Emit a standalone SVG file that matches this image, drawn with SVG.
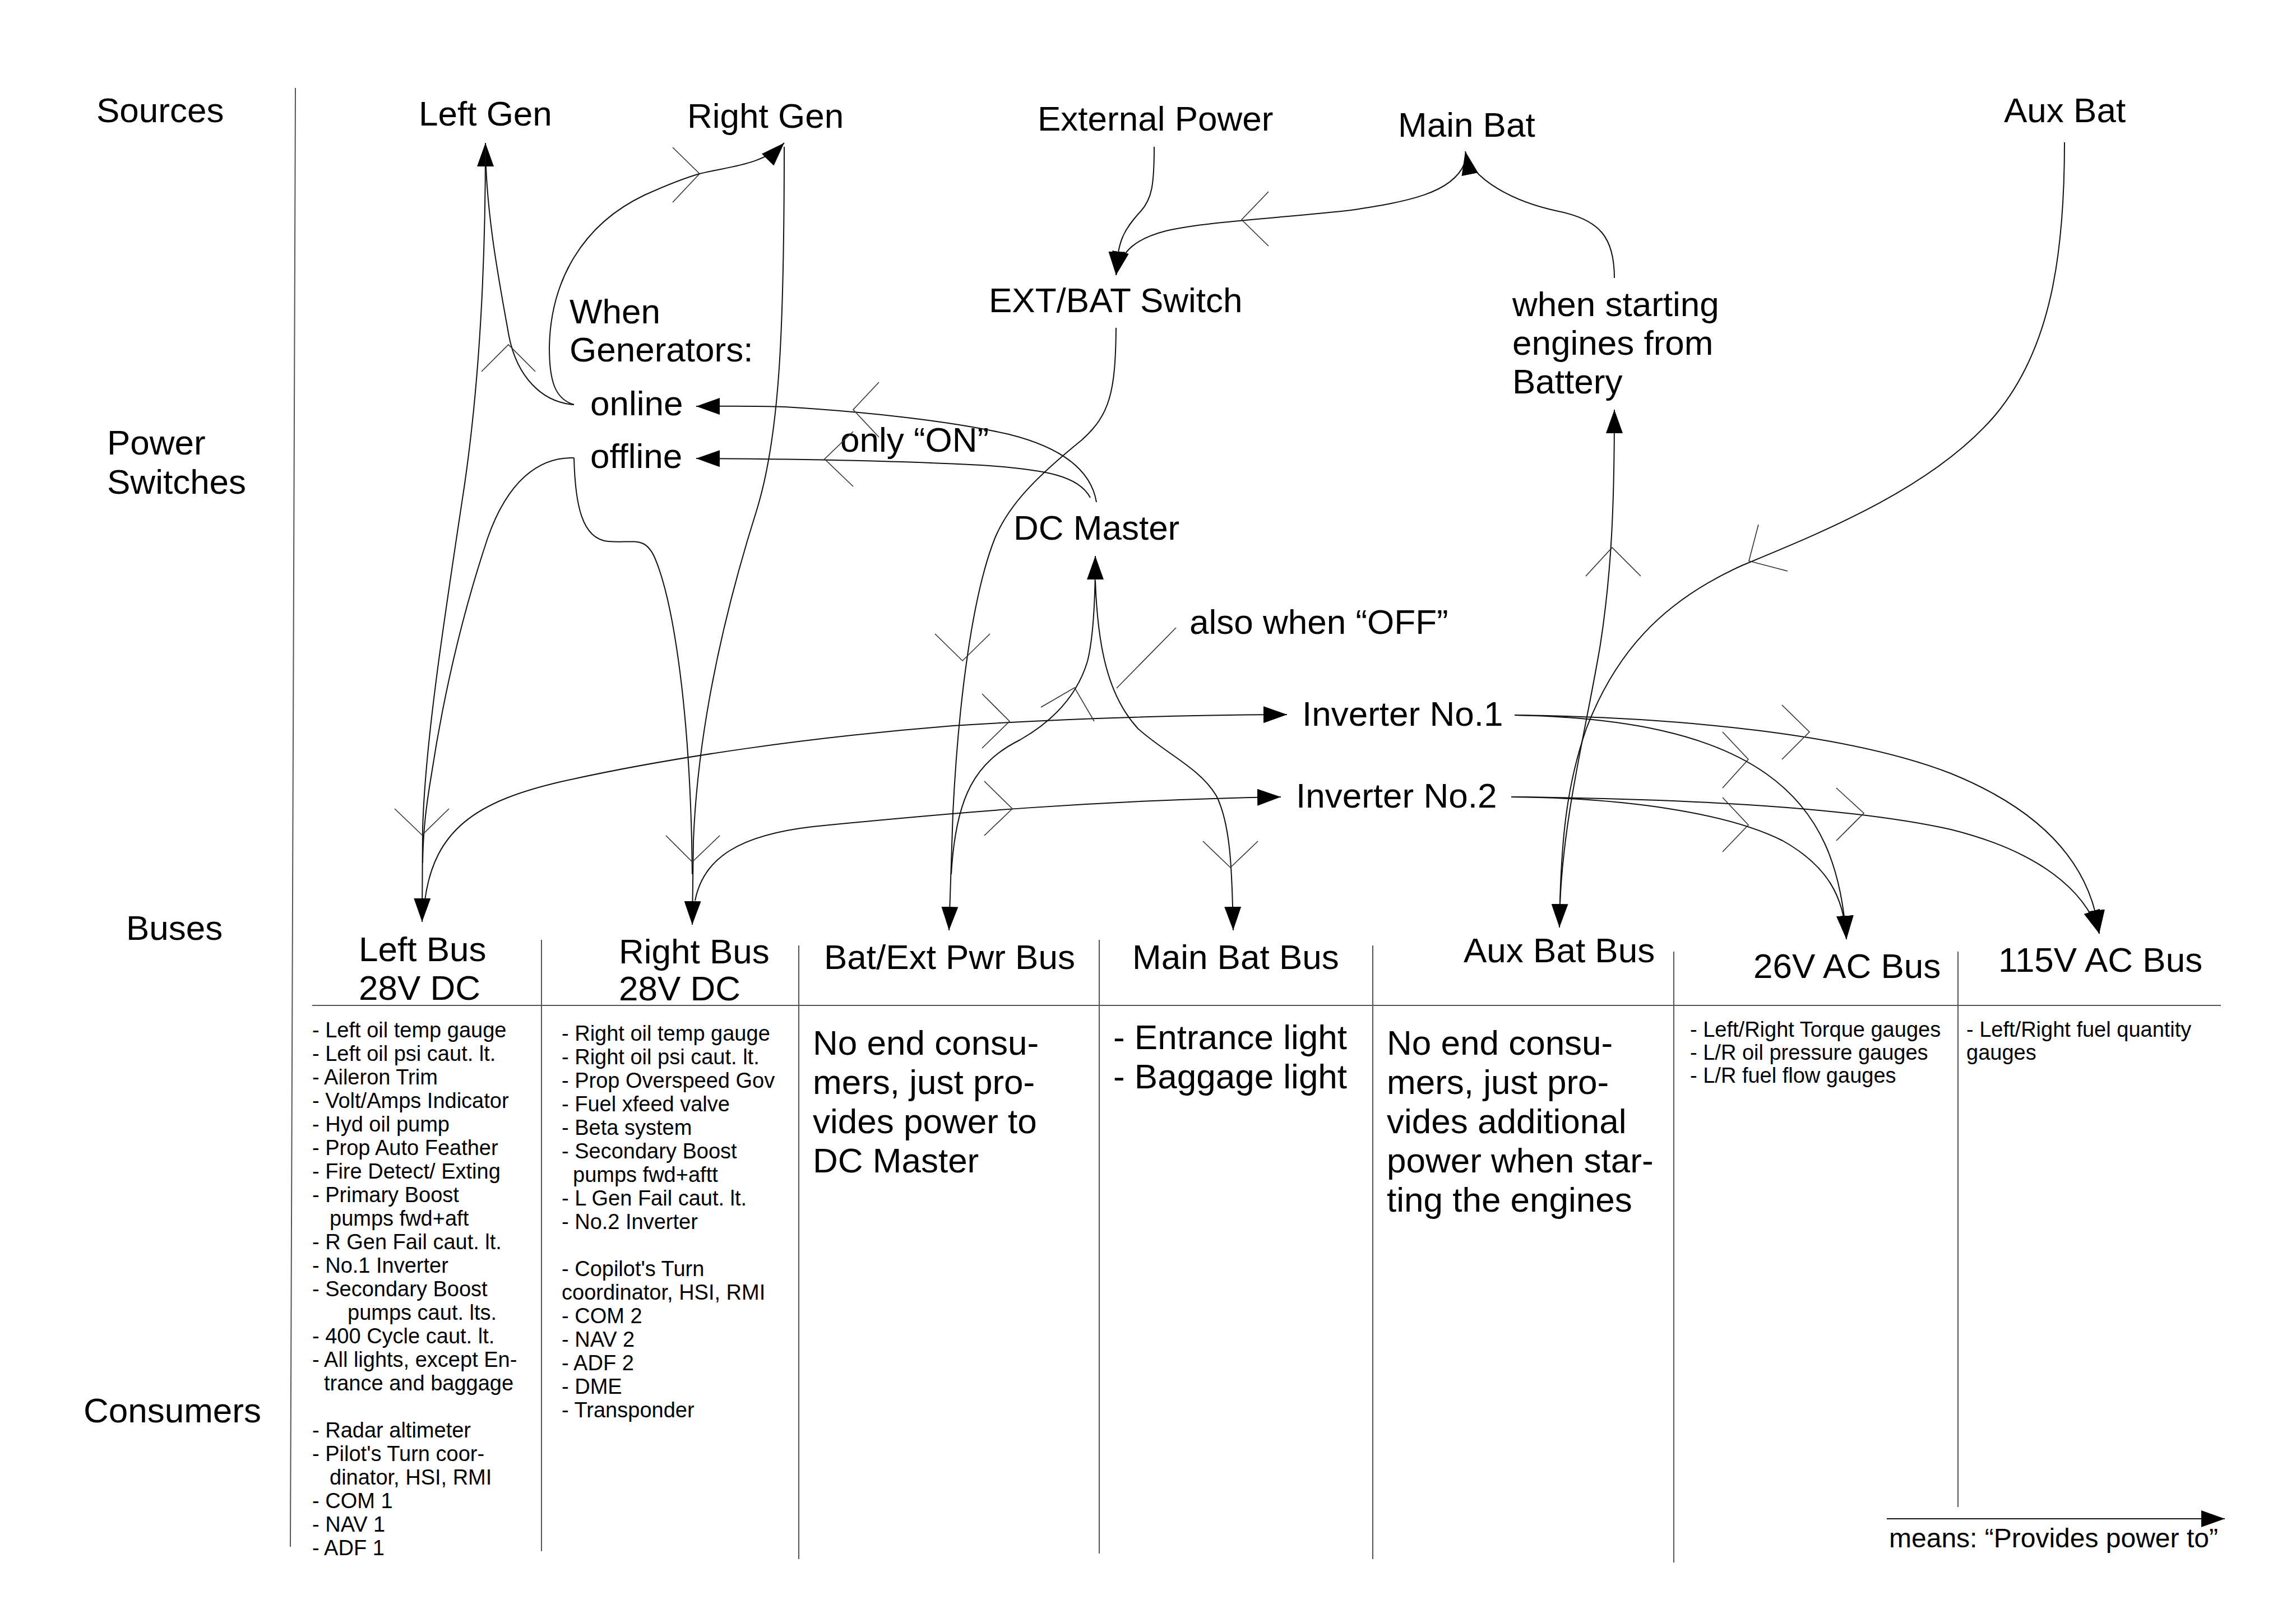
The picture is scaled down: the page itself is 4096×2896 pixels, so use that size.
<svg xmlns="http://www.w3.org/2000/svg" width="4096" height="2896" viewBox="0 0 4096 2896">
<style>
text { font-family: "Liberation Sans", Arial, sans-serif; font-size: 62px; fill: #000; }
text.s { font-size: 38px; }
text.lg { font-size: 48px; }
.c { fill: none; stroke: #111; stroke-width: 2; }
.ca { fill: none; stroke: #111; stroke-width: 2; marker-end: url(#ah); }
.ch { fill: none; stroke: #333; stroke-width: 1.6; }
.grid { stroke: #555; stroke-width: 2; fill: none; }
</style>
<defs>
<marker id="ah" markerUnits="userSpaceOnUse" markerWidth="42" markerHeight="30" viewBox="0 0 42 30" refX="42" refY="15" orient="auto">
<path d="M0,0 L42,15 L0,30 z" fill="#000"/>
</marker>
</defs>
<rect width="4096" height="2896" fill="#fff"/>

<g id="table">
<line class="grid" x1="527" y1="157" x2="518" y2="2760" stroke="#333"/>
<line class="grid" x1="557" y1="1794" x2="3962" y2="1794"/>
<line class="grid" x1="966" y1="1677" x2="966" y2="2768"/>
<line class="grid" x1="1425" y1="1687" x2="1425" y2="2782"/>
<line class="grid" x1="1961" y1="1677" x2="1961" y2="2772"/>
<line class="grid" x1="2449" y1="1687" x2="2449" y2="2782"/>
<line class="grid" x1="2986" y1="1698" x2="2986" y2="2788"/>
<line class="grid" x1="3493" y1="1698" x2="3493" y2="2689"/>
</g>

<g id="row-labels">
<text x="172" y="218">Sources</text>
<text x="191" y="811">Power</text>
<text x="191" y="881">Switches</text>
<text x="225" y="1677">Buses</text>
<text x="149" y="2538">Consumers</text>
</g>

<g id="left-gen"><text x="747" y="224">Left Gen</text></g>
<g id="right-gen"><text x="1226" y="228">Right Gen</text></g>
<g id="external-power"><text x="1851" y="233">External Power</text></g>
<g id="main-bat"><text x="2494" y="244">Main Bat</text></g>
<g id="aux-bat"><text x="3575" y="218">Aux Bat</text></g>
<g id="ext-bat-switch"><text x="1764" y="557">EXT/BAT Switch</text></g>
<g id="when-generators"><text x="1016" y="577">When</text><text x="1016" y="645">Generators:</text></g>
<g id="online"><text x="1053" y="741">online</text></g>
<g id="offline"><text x="1053" y="835">offline</text></g>
<g id="only-on"><text x="1499" y="806">only “ON”</text></g>
<g id="dc-master"><text x="1808" y="963">DC Master</text></g>
<g id="also-off"><text x="2122" y="1131">also when “OFF”</text></g>
<g id="when-starting"><text x="2698" y="564">when starting</text><text x="2698" y="633">engines from</text><text x="2698" y="702">Battery</text></g>
<g id="inverter-1"><text x="2323" y="1295">Inverter No.1</text></g>
<g id="inverter-2"><text x="2312" y="1441">Inverter No.2</text></g>

<g id="left-bus"><text x="640" y="1715">Left Bus</text><text x="640" y="1784">28V DC</text></g>
<g id="right-bus"><text x="1104" y="1719">Right Bus</text><text x="1104" y="1785">28V DC</text></g>
<g id="bat-ext-bus"><text x="1470" y="1729">Bat/Ext Pwr Bus</text></g>
<g id="main-bat-bus"><text x="2020" y="1729">Main Bat Bus</text></g>
<g id="aux-bat-bus"><text x="2611" y="1717">Aux Bat Bus</text></g>
<g id="ac26-bus"><text x="3128" y="1745">26V AC Bus</text></g>
<g id="ac115-bus"><text x="3565" y="1734">115V AC Bus</text></g>

<g id="left-bus-consumers">
<text class="s" x="557" y="1851">- Left oil temp gauge</text>
<text class="s" x="557" y="1893">- Left oil psi caut. lt.</text>
<text class="s" x="557" y="1935">- Aileron Trim</text>
<text class="s" x="557" y="1977">- Volt/Amps Indicator</text>
<text class="s" x="557" y="2019">- Hyd oil pump</text>
<text class="s" x="557" y="2061">- Prop Auto Feather</text>
<text class="s" x="557" y="2103">- Fire Detect/ Exting</text>
<text class="s" x="557" y="2145">- Primary Boost</text>
<text class="s" x="588" y="2187">pumps fwd+aft</text>
<text class="s" x="557" y="2229">- R Gen Fail caut. lt.</text>
<text class="s" x="557" y="2271">- No.1 Inverter</text>
<text class="s" x="557" y="2313">- Secondary Boost</text>
<text class="s" x="620" y="2355">pumps caut. lts.</text>
<text class="s" x="557" y="2397">- 400 Cycle caut. lt.</text>
<text class="s" x="557" y="2439">- All lights, except En-</text>
<text class="s" x="578" y="2481">trance and baggage</text>
<text class="s" x="557" y="2565">- Radar altimeter</text>
<text class="s" x="557" y="2607">- Pilot's Turn coor-</text>
<text class="s" x="588" y="2649">dinator, HSI, RMI</text>
<text class="s" x="557" y="2691">- COM 1</text>
<text class="s" x="557" y="2733">- NAV 1</text>
<text class="s" x="557" y="2775">- ADF 1</text>
</g>

<g id="right-bus-consumers">
<text class="s" x="1002" y="1857">- Right oil temp gauge</text>
<text class="s" x="1002" y="1899">- Right oil psi caut. lt.</text>
<text class="s" x="1002" y="1941">- Prop Overspeed Gov</text>
<text class="s" x="1002" y="1983">- Fuel xfeed valve</text>
<text class="s" x="1002" y="2025">- Beta system</text>
<text class="s" x="1002" y="2067">- Secondary Boost</text>
<text class="s" x="1022" y="2109">pumps fwd+aftt</text>
<text class="s" x="1002" y="2151">- L Gen Fail caut. lt.</text>
<text class="s" x="1002" y="2193">- No.2 Inverter</text>
<text class="s" x="1002" y="2277">- Copilot's Turn</text>
<text class="s" x="1002" y="2319">coordinator, HSI, RMI</text>
<text class="s" x="1002" y="2361">- COM 2</text>
<text class="s" x="1002" y="2403">- NAV 2</text>
<text class="s" x="1002" y="2445">- ADF 2</text>
<text class="s" x="1002" y="2487">- DME</text>
<text class="s" x="1002" y="2529">- Transponder</text>
</g>

<g id="bat-ext-consumers">
<text x="1450" y="1882">No end consu-</text>
<text x="1450" y="1952">mers, just pro-</text>
<text x="1450" y="2022">vides power to</text>
<text x="1450" y="2092">DC Master</text>
</g>

<g id="main-bat-consumers">
<text x="1986" y="1872">- Entrance light</text>
<text x="1986" y="1942">- Baggage light</text>
</g>

<g id="aux-bat-consumers">
<text x="2474" y="1882">No end consu-</text>
<text x="2474" y="1952">mers, just pro-</text>
<text x="2474" y="2022">vides additional</text>
<text x="2474" y="2092">power when star-</text>
<text x="2474" y="2162">ting the engines</text>
</g>

<g id="ac26-consumers">
<text class="s" x="3015" y="1850">- Left/Right Torque gauges</text>
<text class="s" x="3015" y="1891">- L/R oil pressure gauges</text>
<text class="s" x="3015" y="1932">- L/R fuel flow gauges</text>
</g>

<g id="ac115-consumers">
<text class="s" x="3508" y="1850">- Left/Right fuel quantity</text>
<text class="s" x="3508" y="1891">gauges</text>
</g>

<g id="legend">
<line class="ca" x1="3366" y1="2710" x2="3969" y2="2710"/>
<text class="lg" x="3370" y="2761">means: “Provides power to”</text>
</g>

<g id="connectors">
<!-- online -> Left Gen -->
<path class="ca" d="M1024,722 C965,718 922,670 908,600 C892,510 866,380 866,255"/>
<!-- online -> Right Gen -->
<path class="ca" d="M1024,722 C990,712 980,680 980,620 C982,500 1040,400 1150,348 C1190,330 1220,318 1248,310 C1300,297 1360,295 1399,255"/>
<!-- Left Gen -> Left Bus -->
<path class="ca" d="M866,262 C866,520 850,720 828,870 C790,1120 758,1330 754,1480 L753,1645"/>
<!-- offline -> Left Bus -->
<path class="c" d="M1024,817 C960,815 905,860 870,960 C820,1110 790,1250 770,1380 C760,1440 755,1480 754,1540"/>
<!-- Right Gen -> Right Bus -->
<path class="ca" d="M1399,262 C1399,600 1390,780 1350,910 C1290,1100 1245,1300 1237,1500 L1235,1650"/>
<!-- offline -> Right Bus -->
<path class="c" d="M1024,817 C1026,900 1038,962 1085,966 C1130,970 1150,955 1168,995 C1200,1070 1228,1250 1234,1500 L1235,1560"/>
<!-- External Power -> EXT/BAT -->
<path class="ca" d="M2059,262 C2059,330 2055,355 2035,377 C2005,410 1993,430 1991,491"/>
<!-- Main Bat -> EXT/BAT -->
<path class="ca" d="M2612,293 C2590,345 2510,360 2410,375 C2300,388 2150,395 2080,412 C2030,425 2000,445 1991,491"/>
<!-- when starting -> Main Bat -->
<path class="ca" d="M2880,496 C2880,425 2855,392 2780,377 C2700,360 2624,320 2614,270"/>
<!-- EXT/BAT -> Bat/Ext Pwr Bus -->
<path class="ca" d="M1991,585 C1990,700 1980,740 1930,785 C1850,850 1800,900 1775,960 C1735,1060 1710,1250 1700,1450 L1693,1660"/>
<!-- DC Master -> online -->
<path class="ca" d="M1956,896 C1945,830 1880,795 1800,775 C1700,752 1550,735 1400,726 C1340,724 1300,725 1242,725"/>
<!-- DC Master -> offline -->
<path class="ca" d="M1945,888 C1925,850 1870,838 1750,830 C1600,822 1450,819 1242,818"/>
<!-- Bat/Ext Pwr Bus -> DC Master -->
<path class="ca" d="M1697,1560 C1705,1420 1740,1360 1820,1320 C1890,1280 1925,1230 1940,1180 C1950,1140 1954,1080 1954,992"/>
<!-- DC Master -> Main Bat Bus -->
<path class="ca" d="M1954,1036 C1958,1150 1975,1240 2030,1300 C2080,1345 2140,1370 2170,1420 C2195,1470 2198,1550 2200,1660"/>
<!-- also when OFF leader -->
<line class="ch" x1="2098" y1="1120" x2="1992" y2="1228"/>
<!-- Left Bus -> Inverter No.1 -->
<path class="ca" d="M758,1606 C775,1480 850,1430 1000,1395 C1200,1350 1450,1315 1700,1295 C1900,1282 2100,1276 2296,1275"/>
<!-- Right Bus -> Inverter No.2 -->
<path class="ca" d="M1240,1607 C1255,1530 1320,1490 1450,1475 C1700,1450 1950,1428 2285,1422"/>
<!-- Aux Bat -> Aux Bat Bus -->
<path class="ca" d="M3683,254 C3683,450 3660,620 3560,740 C3450,870 3250,950 3110,1008 C2960,1075 2880,1170 2830,1300 C2795,1400 2784,1500 2782,1655"/>
<!-- Aux Bat Bus -> when starting -->
<path class="ca" d="M2783,1612 C2790,1450 2830,1300 2855,1150 C2875,1020 2880,900 2880,731"/>
<!-- Inverter No.1 -> 26V AC -->
<path class="ca" d="M2702,1276 C2900,1280 3050,1310 3150,1380 C3250,1450 3285,1550 3294,1676"/>
<!-- Inverter No.1 -> 115V AC -->
<path class="ca" d="M2702,1276 C3000,1280 3300,1310 3480,1380 C3640,1445 3730,1540 3745,1666"/>
<!-- Inverter No.2 -> 26V AC -->
<path class="ca" d="M2696,1422 C2900,1424 3080,1450 3180,1500 C3260,1545 3290,1600 3294,1676"/>
<!-- Inverter No.2 -> 115V AC -->
<path class="ca" d="M2696,1422 C3000,1425 3300,1440 3480,1480 C3640,1520 3720,1590 3745,1666"/>

<!-- direction chevrons -->
<polyline class="ch" points="859,663 907,615 955,663"/>
<polyline class="ch" points="1200,263 1248,310 1200,361"/>
<polyline class="ch" points="704,1443 753,1490 801,1443"/>
<polyline class="ch" points="1188,1491 1235,1538 1284,1491"/>
<polyline class="ch" points="2263,342 2215,392 2263,439"/>
<polyline class="ch" points="1568,682 1522,731 1568,780"/>
<polyline class="ch" points="1522,770 1471,819 1522,868"/>
<polyline class="ch" points="1668,1131 1717,1179 1766,1131"/>
<polyline class="ch" points="1857,1262 1917,1227 1952,1287"/>
<polyline class="ch" points="2146,1501 2195,1548 2244,1501"/>
<polyline class="ch" points="1752,1238 1801,1287 1752,1335"/>
<polyline class="ch" points="1756,1394 1806,1443 1756,1491"/>
<polyline class="ch" points="3137,936 3120,1001 3189,1019"/>
<polyline class="ch" points="2829,1028 2876,977 2927,1028"/>
<polyline class="ch" points="3179,1258 3228,1306 3179,1355"/>
<polyline class="ch" points="3073,1306 3119,1355 3073,1406"/>
<polyline class="ch" points="3073,1423 3119,1472 3073,1520"/>
<polyline class="ch" points="3276,1406 3325,1451 3276,1500"/>
</g>
</svg>
